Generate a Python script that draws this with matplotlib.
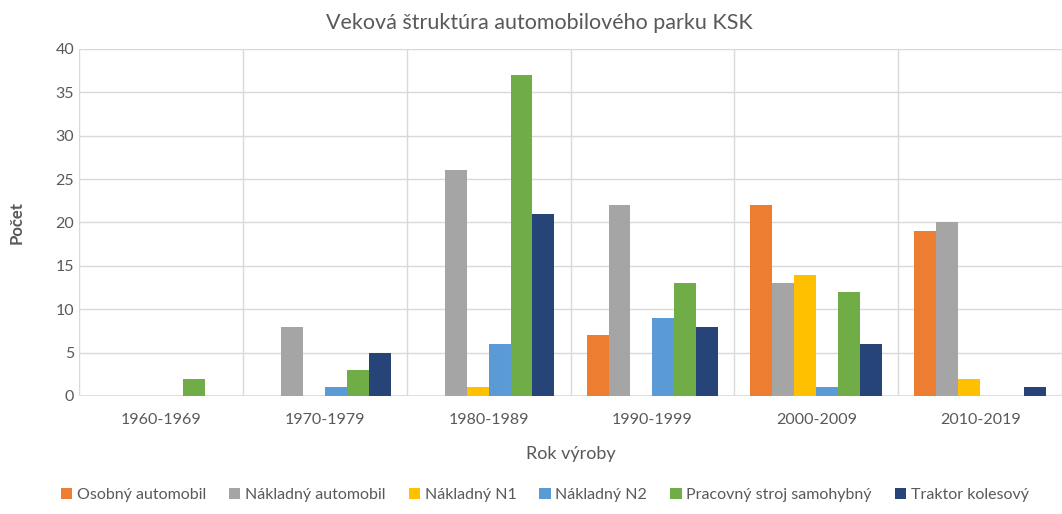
import numpy as np
import matplotlib
matplotlib.use("Agg")
import matplotlib.pyplot as plt

plt.rcParams['font.family'] = ['Lato', 'DejaVu Sans']

categories = ['1960-1969', '1970-1979', '1980-1989', '1990-1999', '2000-2009', '2010-2019']
series = ['Osobný automobil', 'Nákladný automobil', 'Nákladný N1', 'Nákladný N2',
          'Pracovný stroj samohybný', 'Traktor kolesový']
osobny = [0, 0, 0, 7, 22, 19]
nakladny = [0, 8, 26, 22, 13, 20]
n1 = [0, 0, 1, 0, 14, 2]
n2 = [0, 1, 6, 9, 1, 0]
pracovny = [2, 3, 37, 13, 12, 0]
traktor = [0, 5, 21, 8, 6, 1]
values = [osobny, nakladny, n1, n2, pracovny, traktor]
colors = ['#ED7D31', '#A5A5A5', '#FFC000', '#5B9BD5', '#70AD47', '#264478']

txt = '#595959'
fig = plt.figure(figsize=(10.62, 5.14), dpi=100)
ax = fig.add_axes([0.0744, 0.2296, 0.9256, 0.6751])

x = np.arange(len(categories))
w = 0.134
for i, (vals, c) in enumerate(zip(values, colors)):
    ax.bar(x + (i - 2.5) * w, vals, w, color=c, label=series[i], zorder=3)

ax.set_xlim(-0.5, len(categories) - 0.5)
ax.set_ylim(0, 40)
ax.set_yticks(range(0, 41, 5))
ax.set_xticks(x)
ax.set_xticklabels(categories)
ax.set_xticks(np.arange(-0.5, len(categories), 1), minor=True)
ax.grid(True, which='major', axis='y', color='#D9D9D9', lw=1, zorder=0)
ax.grid(True, which='minor', axis='x', color='#D9D9D9', lw=1, zorder=0)
ax.tick_params(axis='both', which='both', length=0, colors=txt, labelsize=11.5)
ax.tick_params(axis='x', pad=12)
for s in ax.spines.values():
    s.set_visible(False)
ax.axhline(0, color='#D9D9D9', lw=1.2, zorder=2)

fig.suptitle('Veková štruktúra automobilového parku KSK', color=txt, fontsize=15.5,
             x=0.508, y=0.975, va='top')
ax.set_xlabel('Rok výroby', color=txt, fontsize=13, labelpad=14)
ax.set_ylabel('Počet', color=txt, fontsize=12, fontweight='bold', labelpad=22)

fig.legend(loc='lower center', bbox_to_anchor=(0.513, -0.005), ncol=6, frameon=False,
           fontsize=11.5, labelcolor=txt, handlelength=0.7, handleheight=0.7,
           handletextpad=0.3, columnspacing=1.45)

fig.savefig('out.png', dpi=100)
